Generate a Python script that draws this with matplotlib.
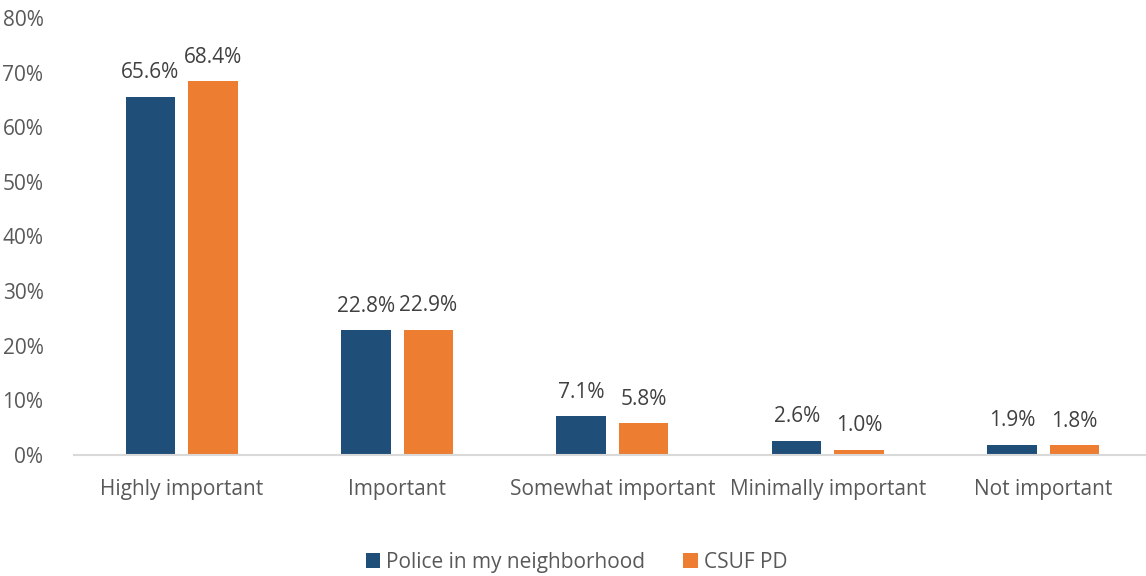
import matplotlib
matplotlib.use("Agg")
import matplotlib.pyplot as plt
import numpy as np

categories = ["Highly important", "Important", "Somewhat important", "Minimally important", "Not important"]
series_names = ["Police in my neighborhood", "CSUF PD"]
police = [65.6, 22.8, 7.1, 2.6, 1.9]
csuf = [68.4, 22.9, 5.8, 1.0, 1.8]
yticks = [0, 10, 20, 30, 40, 50, 60, 70, 80]

plt.rcParams['font.family'] = ['Open Sans', 'DejaVu Sans']
fig = plt.figure(figsize=(11.46, 5.76), dpi=100)
ax = fig.add_axes([0.0646, 0.21, 0.9354, 0.759])

x = np.arange(len(categories))
w = 0.23
off = 0.145
colors = ["#1F4E79", "#ED7D31"]
b1 = ax.bar(x - off, police, w, color=colors[0], label=series_names[0])
b2 = ax.bar(x + off, csuf, w, color=colors[1], label=series_names[1])
for bars, vals in ((b1, police), (b2, csuf)):
    for b, v in zip(bars, vals):
        ax.text(b.get_x() + b.get_width() / 2, v + 2.5, f"{v:.1f}%", ha="center", va="bottom",
                fontsize=15, color="#404040")

ax.set_xlim(-0.5, 4.477)
ax.set_ylim(0, 80)
ax.set_yticks(yticks)
ax.set_yticklabels([f"{t}%" for t in yticks])
ax.set_xticks(x)
ax.set_xticklabels(categories)
ax.tick_params(axis="both", length=0, labelsize=15, labelcolor="#595959")
ax.tick_params(axis="x", pad=17)
ax.tick_params(axis="y", pad=22)
for s in ["top", "right", "left"]:
    ax.spines[s].set_visible(False)
ax.spines["bottom"].set_color("#D9D9D9")
ax.spines["bottom"].set_linewidth(1.5)

leg = fig.legend(handles=[b1, b2], labels=series_names, loc="center", bbox_to_anchor=(0.503, 0.024),
                 ncol=2, frameon=False, fontsize=15, handlelength=0.7, handleheight=0.7,
                 handletextpad=0.3, columnspacing=1.8)
for t in leg.get_texts():
    t.set_color("#595959")

fig.savefig("out.png", dpi=100)
